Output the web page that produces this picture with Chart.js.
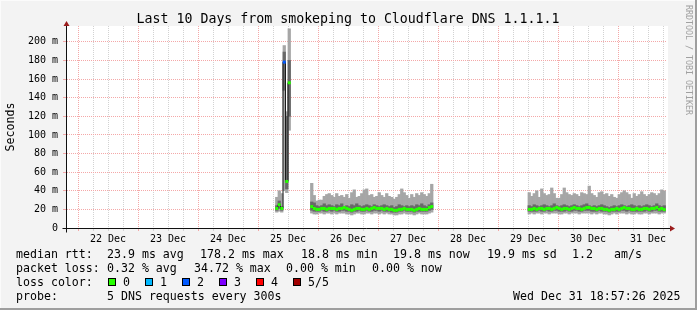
<!DOCTYPE html>
<html>
<head>
<meta charset="utf-8">
<script src="https://cdn.jsdelivr.net/npm/chart.js@4.4.1/dist/chart.umd.min.js"></script>
<style>
  html, body { margin: 0; padding: 0; background: #f3f3f3; }
  canvas { display: block; }
</style>
</head>
<body>
<canvas id="smokeChart" width="697" height="310"></canvas>
<script>
// hours counted from 22 Dec 00:00, one smoke column per hour
const segmentStart = [79.5, 93.5, 180.5]
const segmentLength = [6, 49, 55]

// values in ms: spike on 25 Dec, then 25-27 Dec, then 29-31 Dec
const pingMax = [
  33, 40, 37, 196, 125, 214,
  48, 35, 29, 30, 30, 34, 36, 37, 35, 33, 37, 34, 35, 33, 36, 32, 38, 41, 33, 34, 37, 41, 42, 35, 36,
  33, 34, 38, 35, 33, 37, 34, 33, 31, 33, 36, 42, 38, 35, 32, 36, 33, 37, 35, 38, 36, 34, 37, 47,
  38, 34, 37, 40, 33, 42, 37, 35, 36, 43, 37, 32, 32, 36, 43, 38, 36, 35, 37, 36, 34, 38, 37, 36, 45,
  37, 35, 33, 38, 39, 36, 37, 34, 36, 33, 32, 36, 38, 40, 38, 36, 32, 37, 34, 36, 39, 36, 34, 36, 38,
  37, 35, 37, 41, 40
]
const pingHigh = [
  24, 29, 23, 189, 120, 180,
  28, 27, 24, 23, 24, 26, 24, 25, 24, 23, 25, 24, 26, 23, 24, 23, 25, 24, 26, 24, 23, 24, 25, 24, 23,
  25, 24, 23, 24, 25, 24, 23, 24, 22, 23, 25, 24, 23, 24, 23, 24, 23, 25, 24, 26, 24, 23, 25, 27,
  24, 23, 25, 24, 23, 24, 25, 24, 23, 24, 26, 24, 23, 24, 25, 24, 23, 24, 25, 24, 23, 24, 25, 26, 24,
  23, 24, 23, 24, 25, 24, 23, 22, 23, 24, 23, 24, 25, 24, 23, 24, 25, 24, 23, 24, 23, 24, 25, 24, 23,
  24, 26, 24, 23, 24
]
const medianRtt = [
  21, 25, 21, 178.2, 50, 156,
  23, 21, 20, 20, 21, 21, 20, 21, 21, 21, 20, 21, 21, 22, 21, 20, 19, 20, 21, 21, 20, 20, 21, 20, 21,
  22, 21, 21, 21, 20, 21, 20, 20, 19, 19, 20, 20, 21, 20, 20, 20, 19, 20, 21, 20, 20, 20, 22, 23,
  20, 20, 21, 20, 21, 21, 20, 21, 21, 20, 21, 22, 21, 20, 21, 21, 20, 21, 22, 21, 21, 20, 21, 22, 22,
  21, 21, 20, 21, 21, 20, 20, 19, 20, 20, 21, 20, 21, 22, 21, 21, 20, 20, 21, 20, 20, 21, 21, 20, 21,
  21, 22, 20, 21, 19.8
]
const pingLow = [
  19, 21, 19, 148, 42, 120,
  19, 18, 18, 18, 19, 18, 18, 19, 18, 19, 18, 18, 19, 19, 18, 18, 17, 18, 18, 19, 18, 18, 19, 18, 18,
  19, 19, 18, 19, 18, 18, 18, 17, 17, 17, 18, 18, 19, 18, 18, 18, 17, 18, 18, 18, 18, 18, 19, 20,
  18, 18, 18, 18, 19, 18, 18, 19, 18, 18, 19, 19, 18, 18, 18, 19, 18, 18, 19, 19, 18, 18, 19, 19, 19,
  18, 18, 18, 19, 18, 18, 18, 17, 18, 18, 18, 18, 19, 19, 18, 19, 18, 18, 18, 18, 18, 18, 19, 18, 18,
  19, 19, 18, 18, 18
]
const pingMin = [
  17, 18, 17, 40, 38, 105,
  16, 15, 15, 16, 16, 15, 16, 16, 15, 16, 15, 16, 16, 16, 15, 15, 14, 15, 16, 16, 15, 15, 16, 16, 15,
  16, 16, 15, 16, 15, 16, 15, 15, 14, 14, 15, 15, 16, 15, 15, 15, 14, 15, 16, 15, 15, 15, 16, 17,
  15, 16, 15, 16, 16, 15, 16, 16, 15, 16, 16, 16, 15, 15, 16, 16, 15, 16, 16, 16, 15, 16, 16, 16, 16,
  15, 16, 15, 16, 16, 15, 15, 14, 15, 16, 15, 16, 16, 16, 15, 16, 15, 15, 16, 15, 15, 16, 16, 15, 16,
  16, 16, 15, 16, 16
]
// hours with lost pings (all others lost none)
const lossHours = [82.5]
const lossCounts = [2]

const dayLabels = ['22 Dec', '23 Dec', '24 Dec', '25 Dec', '26 Dec', '27 Dec', '28 Dec', '29 Dec', '30 Dec', '31 Dec']
const lossColors = ['#26ff00', '#00b8ff', '#0059ff', '#7e00ff', '#ff0000', '#a10000']
const lossLabels = ['0', '1', '2', '3', '4', '5/5']

const titleText = 'Last 10 Days from smokeping to Cloudflare DNS 1.1.1.1'
const statRows = [
  { y: 258, cells: [[16, 'median rtt:'], [107, '23.9 ms avg'], [200, '178.2 ms max'], [301, '18.8 ms min'], [393, '19.8 ms now'], [487, '19.9 ms sd'], [572, '1.2'], [614, 'am/s']] },
  { y: 272, cells: [[16, 'packet loss:'], [107, '0.32 % avg'], [194, '34.72 % max'], [286, '0.00 % min'], [372, '0.00 % now']] },
  { y: 286, cells: [[16, 'loss color:']] },
  { y: 300, cells: [[16, 'probe:'], [107, '5 DNS requests every 300s'], [513, 'Wed Dec 31 18:57:26 2025']] }
]

const MONO = "'DejaVu Sans Mono', monospace"
const RED_GRID = '#f4a8a8'
const GREY_GRID = '#d2d2d2'

const hours = []
segmentStart.forEach((start, s) => {
  for (let i = 0; i < segmentLength[s]; i++) hours.push(start + i)
})

const lossAt = h => {
  const i = lossHours.indexOf(h)
  return i < 0 ? 0 : lossCounts[i]
}

const outerBars = hours.map((h, i) => ({ x: h, y: [pingMin[i], pingMax[i]] }))
const innerBars = hours.map((h, i) => ({ x: h, y: [pingLow[i], pingHigh[i]] }))
const medianPoints = []
hours.forEach((h, i) => {
  if (i > 0 && h - hours[i - 1] > 1) medianPoints.push({ x: h - 0.5, y: null })
  medianPoints.push({ x: h, y: medianRtt[i] })
})
const medianMarks = hours.map((h, i) => ({ x: h, y: medianRtt[i] }))
const markColors = hours.map(h => lossColors[lossAt(h)])

const xGrid = []
for (let v = 0; v <= 234; v += 6) xGrid.push(v)
const yGrid = []
for (let v = 0; v <= 210; v += 10) yGrid.push(v)

const rrdFrame = {
  id: 'rrdFrame',
  beforeDraw (chart) {
    const { ctx, chartArea: a, width, height } = chart
    ctx.save()
    ctx.fillStyle = '#f3f3f3'
    ctx.fillRect(0, 0, width, height)
    ctx.fillStyle = '#fbfbfb'
    ctx.fillRect(0, 0, width, 1)
    ctx.fillRect(0, 0, 1, height)
    ctx.fillStyle = '#9e9e9e'
    ctx.fillRect(0, height - 2, width, 2)
    ctx.fillRect(width - 2, 0, 2, height)
    ctx.fillStyle = '#ffffff'
    ctx.fillRect(a.left, a.top, a.right - a.left + 2, a.bottom - a.top)
    ctx.restore()
  },
  afterDraw (chart) {
    const { ctx, chartArea: a } = chart
    ctx.save()

    // axes with arrows
    const ax = Math.round(a.left) - 0.5
    const ay = Math.round(a.bottom) + 0.5
    ctx.strokeStyle = '#101010'
    ctx.lineWidth = 1
    ctx.beginPath()
    ctx.moveTo(ax, ay + 4)
    ctx.lineTo(ax, a.top - 2)
    ctx.moveTo(ax - 4, ay)
    ctx.lineTo(a.right + 4, ay)
    ctx.stroke()
    ctx.fillStyle = '#9b1c1c'
    ctx.beginPath()
    ctx.moveTo(ax, a.top - 5)
    ctx.lineTo(ax - 3, a.top)
    ctx.lineTo(ax + 3, a.top)
    ctx.closePath()
    ctx.fill()
    ctx.beginPath()
    ctx.moveTo(a.right + 9, ay)
    ctx.lineTo(a.right + 4, ay - 3)
    ctx.lineTo(a.right + 4, ay + 3)
    ctx.closePath()
    ctx.fill()

    // title
    ctx.fillStyle = '#000'
    ctx.font = '13.25px ' + MONO
    ctx.textAlign = 'center'
    ctx.textBaseline = 'alphabetic'
    ctx.fillText(titleText, 348, 23)

    // y axis title
    ctx.font = '11.6px ' + MONO
    ctx.save()
    ctx.translate(11, 127)
    ctx.rotate(-Math.PI / 2)
    ctx.textBaseline = 'middle'
    ctx.fillText('Seconds', 0, 0)
    ctx.restore()

    // stats block
    ctx.textAlign = 'left'
    ctx.textBaseline = 'alphabetic'
    statRows.forEach(row => {
      row.cells.forEach(([x, text]) => ctx.fillText(text, x, row.y))
    })
    lossLabels.forEach((label, i) => {
      const bx = 108 + i * 37
      ctx.fillStyle = lossColors[i]
      ctx.fillRect(bx, 278, 8, 8)
      ctx.strokeStyle = '#000'
      ctx.strokeRect(bx + 0.5, 278.5, 7, 7)
      ctx.fillStyle = '#000'
      ctx.fillText(label, bx + 15, 286)
    })

    // watermark
    ctx.save()
    ctx.translate(684, 5)
    ctx.rotate(Math.PI / 2)
    ctx.font = '8.3px ' + MONO
    ctx.fillStyle = '#a0a0a0'
    ctx.textBaseline = 'middle'
    ctx.fillText('RRDTOOL / TOBI OETIKER', 0, -4)
    ctx.restore()

    ctx.restore()
  }
}

const gridColor = (ctx, major) => {
  if (!ctx.tick) return GREY_GRID
  return ctx.tick.value % major === 0 ? RED_GRID : GREY_GRID
}

new Chart(document.getElementById('smokeChart'), {
  type: 'bar',
  data: {
    datasets: [
      {
        type: 'line',
        data: medianMarks,
        showLine: false,
        pointStyle: 'line',
        pointRadius: 1.5,
        pointBorderWidth: 3,
        pointBorderColor: markColors,
        pointBackgroundColor: markColors,
        order: 0
      },
      {
        type: 'line',
        data: medianPoints,
        stepped: 'middle',
        borderColor: '#1a1a1a',
        borderWidth: 1,
        pointRadius: 0,
        spanGaps: false,
        order: 1
      },
      {
        data: innerBars,
        backgroundColor: '#686868',
        barThickness: 2.6,
        grouped: false,
        borderWidth: 0,
        order: 2
      },
      {
        data: outerBars,
        backgroundColor: '#a6a6a6',
        barThickness: 2.6,
        grouped: false,
        borderWidth: 0,
        order: 3
      }
    ]
  },
  options: {
    responsive: false,
    animation: false,
    devicePixelRatio: 1,
    events: [],
    layout: { padding: { top: 26, right: 31, bottom: 0, left: 0 } },
    plugins: {
      legend: { display: false },
      tooltip: { enabled: false }
    },
    scales: {
      x: {
        type: 'linear',
        min: -4.4,
        max: 235.2,
        bounds: 'data',
        offset: false,
        afterBuildTicks: scale => { scale.ticks = xGrid.map(v => ({ value: v })) },
        afterFit: scale => { scale.height = 82 },
        ticks: {
          autoSkip: false,
          maxRotation: 0,
          padding: 2,
          color: '#000',
          font: { family: MONO, size: 10 },
          callback: v => (v % 24 === 12 ? dayLabels[(v - 12) / 24] : '')
        },
        grid: {
          offset: false,
          color: ctx => gridColor(ctx, 24),
          tickColor: ctx => gridColor(ctx, 24),
          tickLength: 3,
          lineWidth: 1
        },
        border: { display: false, dash: [1, 1] }
      },
      y: {
        min: 0,
        max: 217,
        bounds: 'data',
        afterBuildTicks: scale => { scale.ticks = yGrid.map(v => ({ value: v })) },
        afterFit: scale => { scale.width = 67 },
        ticks: {
          padding: 5,
          color: '#000',
          font: { family: MONO, size: 10 },
          callback: v => (v % 20 ? '' : (v === 0 ? '0' : v + ' m'))
        },
        grid: {
          color: ctx => gridColor(ctx, 20),
          tickColor: ctx => gridColor(ctx, 20),
          tickLength: 4,
          lineWidth: 1
        },
        border: { display: false, dash: [1, 1] }
      }
    }
  },
  plugins: [rrdFrame]
})
</script>
</body>
</html>
